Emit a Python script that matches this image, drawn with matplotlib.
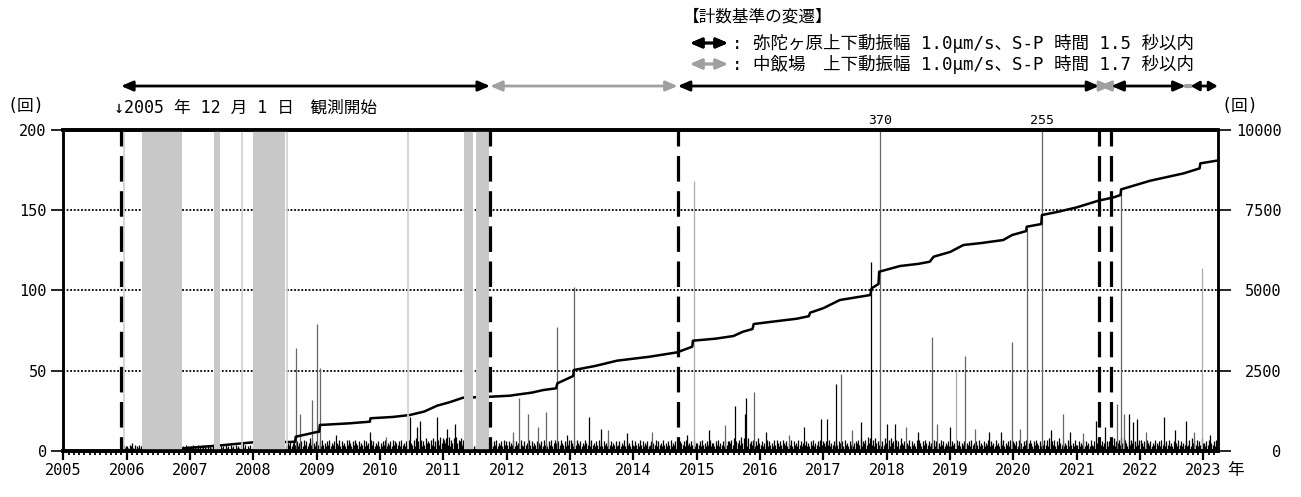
import numpy as np
import matplotlib.pyplot as plt
from matplotlib.transforms import blended_transform_factory

plt.rcParams['font.family'] = ['DejaVu Sans Mono', 'Noto Sans CJK JP']

# cumulative number of earthquakes (right axis)
cum_years = [2005.92, 2006.24, 2006.89, 2007.38, 2007.48, 2008.0, 2008.54, 2008.58, 2008.66, 2008.67,
             2009.0, 2009.04, 2009.05, 2009.5, 2009.84, 2009.85, 2010.2, 2010.47, 2010.7, 2010.9,
             2011.1, 2011.31, 2011.74, 2012.05, 2012.16, 2012.4, 2012.58, 2012.78, 2012.80, 2013.05,
             2013.06, 2013.4, 2013.74, 2014.26, 2014.69, 2014.93, 2014.94, 2015.3, 2015.58, 2015.73,
             2015.88, 2015.90, 2016.2, 2016.58, 2016.77, 2016.79, 2017.0, 2017.26, 2017.74, 2017.76,
             2017.87, 2017.88, 2018.21, 2018.5, 2018.68, 2018.74, 2019.0, 2019.21, 2019.5, 2019.84,
             2019.98, 2020.2, 2020.21, 2020.44, 2020.45, 2020.7, 2021.0, 2021.34, 2021.58, 2021.69,
             2021.70, 2022.16, 2022.69, 2022.94, 2022.95, 2023.21]
cum_vals = [0, 30, 84, 160, 175, 271, 280, 282, 290, 445,
            590, 600, 810, 860, 913, 1020, 1060, 1121, 1230, 1411,
            1520, 1660, 1691, 1723, 1755, 1820, 1900, 1953, 2108, 2336,
            2523, 2650, 2813, 2938, 3073, 3250, 3436, 3500, 3582, 3716,
            3800, 3956, 4030, 4121, 4200, 4308, 4450, 4704, 4859, 5068,
            5202, 5585, 5763, 5830, 5897, 6053, 6200, 6417, 6480, 6573,
            6729, 6850, 6987, 7071, 7351, 7450, 7590, 7797, 7900, 7974,
            8150, 8420, 8650, 8805, 8960, 9045]

# larger daily counts (left axis); tone 0 black, 1 gray, 2 light gray
spike_years = [2008.68, 2008.73, 2008.92, 2009.01, 2009.06, 2009.84, 2010.47, 2010.58, 2010.63, 2010.90,
               2011.19, 2012.20, 2012.33, 2012.62, 2012.80, 2013.07, 2013.30, 2013.49, 2014.95, 2015.61,
               2015.76, 2015.78, 2015.90, 2016.96, 2017.20, 2017.28, 2017.75, 2017.90, 2018.00, 2018.13,
               2018.72, 2019.09, 2019.23, 2019.61, 2019.97, 2020.21, 2020.45, 2020.78, 2021.30, 2021.63,
               2021.70, 2021.82, 2021.89, 2022.38, 2022.73, 2022.98,
               2009.30, 2010.10, 2011.05, 2012.10, 2012.50, 2012.95, 2013.60, 2013.90, 2014.30, 2014.85,
               2015.20, 2015.45, 2016.10, 2016.45, 2016.70, 2017.05, 2017.45, 2017.60, 2018.30, 2018.50,
               2018.80, 2019.00, 2019.40, 2019.80, 2020.10, 2020.60, 2020.90, 2021.10, 2021.45, 2021.75,
               2021.95, 2022.10, 2022.55, 2022.85, 2023.10]
spike_vals = [64, 23, 32, 79, 52, 12, 21, 15, 19, 21,
              17, 33, 23, 24, 77, 102, 21, 14, 168, 28,
              23, 33, 37, 20, 42, 48, 118, 370, 17, 17,
              71, 50, 59, 12, 68, 139, 255, 23, 19, 29,
              163, 23, 18, 21, 19, 114,
              10, 9, 14, 12, 15, 10, 13, 11, 12, 10,
              13, 16, 12, 10, 15, 20, 13, 18, 15, 12,
              17, 15, 14, 12, 14, 13, 12, 11, 15, 23,
              20, 12, 13, 12, 10]
spike_tone = [1, 1, 1, 1, 1, 0, 0, 0, 0, 0,
              0, 1, 1, 1, 1, 1, 0, 0, 2, 0,
              0, 0, 1, 0, 0, 1, 0, 1, 0, 0,
              1, 2, 1, 0, 1, 1, 1, 1, 0, 1,
              1, 0, 0, 0, 0, 2,
              0, 1, 0, 1, 1, 0, 1, 0, 1, 0,
              0, 1, 0, 1, 0, 0, 1, 0, 1, 0,
              1, 0, 1, 0, 1, 0, 0, 1, 0, 1,
              0, 1, 0, 1, 0]

# small daily counts, one digit per ~week (52 per year)
grass = {
    2005: "0000000000000 0000000000000 0000000000000 0000000003423",
    2006: "3243524132434 0000000000000 0000000000000 0000002324132",
    2007: "3241324132413 2314231000003 2314231423142 3241524132413",
    2008: "0000000000000 0000000000000 4354635746354 6374635847536",
    2009: "5463745364735 4635473645374 7536475463547 3645374635463",
    2010: "5364735463746 5463745364735 4738564736485 6574836574958",
    2011: "7584937584957 6847000000003 4000000000004 5364735463746",
    2012: "4635473645374 3645374635463 5463745364735 7536475463547",
    2013: "7536475463547 5463745364735 3645374635463 4635473645374",
    2014: "3645374635463 4635473645374 5364735463746 5463745364735",
    2015: "5463745364735 5364735463746 6574836574958 4738564736485",
    2016: "4635473645374 7536475463547 3645374635463 5364735463746",
    2017: "5364735463746 5463745364735 6574836574958 4738564736485",
    2018: "4738564736485 4635473645374 7536475463547 3645374635463",
    2019: "3645374635463 5463745364735 4635473645374 5364735463746",
    2020: "5463745364735 7536475463547 4738564736485 4635473645374",
    2021: "4635473645374 3645374635463 6574836574958 7536475463547",
    2022: "7536475463547 5463745364735 3645374635463 4738564736485",
    2023: "53647354637",
}

# missing-data periods
gap_spans = [(2006.238, 2006.870), (2007.384, 2007.474), (2008.0, 2008.50),
             (2011.332, 2011.464), (2011.517, 2011.727)]
gap_days = [2005.958, 2007.817, 2008.537, 2010.448]

# changes of counting criteria
change_dates = [2005.911, 2011.738, 2014.70, 2021.356, 2021.545]
criteria = [(2005.911, 2011.738, 'k'), (2011.738, 2014.70, 'g'), (2014.70, 2021.356, 'k'),
            (2021.356, 2021.545, 'g'), (2021.545, 2022.72, 'k'), (2022.72, 2022.80, 'g'),
            (2022.80, 2023.225, 'k')]

W, H = 1301, 497
fig = plt.figure(figsize=(W / 100, H / 100), dpi=100)
ax = fig.add_axes([63.3 / W, 46 / H, (1217.7 - 63.3) / W, 321 / H])
ax2 = ax.twinx()

gx, gv = [], []
for yr, s in grass.items():
    s = "".join(s.split())
    for i, c in enumerate(s):
        if c != "0":
            gx.append(yr + (i + 0.5) / 52)
            gv.append(int(c))
ax.vlines(gx, 0, gv, color='k', lw=0.9, zorder=2)

tone_col = {0: 'k', 1: '#666666', 2: '#aaaaaa'}
for x, v, t in zip(spike_years, spike_vals, spike_tone):
    ax.vlines(x, 0, v, color=tone_col[t], lw=0.9, zorder=2)

ax.set_xlim(2005, 2023.225)
ax.set_ylim(0, 200)
ax2.set_ylim(0, 10000)
ax.set_yticks([0, 50, 100, 150, 200])
ax2.set_yticks([0, 2500, 5000, 7500, 10000])
ax.set_xticks(range(2005, 2024))
ax.set_xticks(np.arange(2005, 2023.23, 1 / 12), minor=True)
ax.set_axisbelow(True)
ax.grid(axis='y', linestyle=(0, (1, 1)), color='k', lw=1.3)

ax2.plot(cum_years, cum_vals, color='k', lw=1.8, zorder=1.5)

for a, b in gap_spans:
    ax2.axvspan(a, b, color='#c8c8c8', lw=0, zorder=2)
for d in gap_days:
    ax2.axvline(d, color='#d0d0d0', lw=1.2, zorder=2)
for d in change_dates:
    ax2.plot([d, d], [10000, 0], color='k', lw=2.3, linestyle=(3, (8, 3)), zorder=2.2)

ax.tick_params(axis='x', which='major', length=6.5, width=1.6, pad=2, labelsize=11)
ax.tick_params(axis='x', which='minor', length=3, width=1.3)
ax.tick_params(axis='y', length=9, width=1.2, pad=3, labelsize=11)
ax2.tick_params(axis='y', length=9, width=1.2, pad=37, labelsize=11)
for lab in ax2.get_yticklabels():
    lab.set_ha('right')

for a in (ax, ax2):
    a.spines['top'].set_linewidth(2.6)
    a.spines['bottom'].set_linewidth(2.6)
    a.spines['left'].set_linewidth(1.8)
    a.spines['right'].set_linewidth(1.8)

tr = blended_transform_factory(ax2.transData, ax2.transAxes)
for x, v in zip(spike_years, spike_vals):
    if v > 200:
        ax2.text(x, 1.01, str(v), transform=tr, ha='center', va='bottom', fontsize=9.5)

arrow_gray = '#a0a0a0'
for a, b, c in criteria:
    col = 'k' if c == 'k' else arrow_gray
    span = b - a
    if span < 0.15:
        style, ms, lw = '-', 10, 3
    elif span < 0.3:
        style, ms, lw = '<|-|>,head_length=0.7,head_width=0.3', 10, 2
    elif span < 0.6:
        style, ms, lw = '<|-|>,head_length=0.7,head_width=0.4', 7, 2
    else:
        style, ms, lw = '<|-|>,head_length=0.7,head_width=0.3', 10, 2
    ax2.annotate('', xy=(b, 1.137), xytext=(a, 1.137), xycoords=tr, textcoords=tr,
                 annotation_clip=False,
                 arrowprops=dict(arrowstyle=style, mutation_scale=ms,
                                 color=col, lw=lw, shrinkA=0, shrinkB=0))

ax2.text(2005.80, 1.069, '↓2005 年 12 月 1 日　観測開始', transform=tr, ha='left', va='center', fontsize=12)

fs = 12
fig.text(26 / W, 1 - 106 / H, '(回)', ha='center', va='center', fontsize=fs)
fig.text(1240 / W, 1 - 106 / H, '(回)', ha='center', va='center', fontsize=fs)
fig.text(1236 / W, 1 - 470 / H, '年', ha='center', va='center', fontsize=fs)
fig.text(683 / W, 1 - 16 / H, '【計数基準の変遷】', ha='left', va='center', fontsize=fs)
legend_rows = [(43, 'k', ': 弥陀ヶ原上下動振幅 1.0μm/s、S-P 時間 1.5 秒以内'),
               (64, arrow_gray, ': 中飯場　上下動振幅 1.0μm/s、S-P 時間 1.7 秒以内')]
for y, col, txt in legend_rows:
    fig.add_artist(plt.annotate('', xy=(728, H - y), xytext=(690, H - y), xycoords='figure pixels',
                                textcoords='figure pixels', annotation_clip=False,
                                arrowprops=dict(arrowstyle='<|-|>,head_length=0.7,head_width=0.3',
                                                color=col, lw=2, shrinkA=0, shrinkB=0)))
    fig.text(732 / W, 1 - y / H, txt, ha='left', va='center', fontsize=12.6)

fig.savefig('out.png', dpi=100)
